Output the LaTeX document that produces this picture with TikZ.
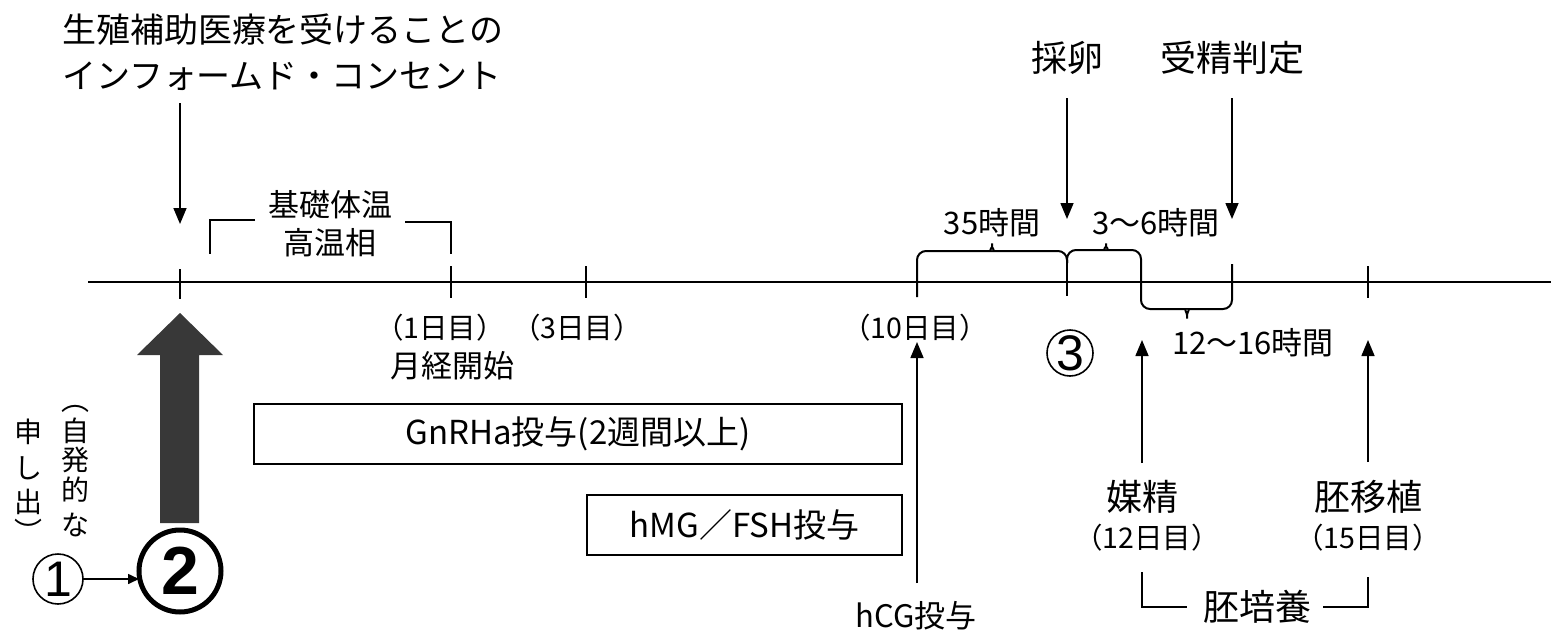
\documentclass[tikz,border=0pt]{standalone}
\usepackage{fontspec}
\setmainfont{Noto Sans CJK JP}
\newfontfamily\latinf{Liberation Sans}
\usetikzlibrary{arrows.meta}
\tikzset{
  every node/.style={inner sep=0pt, outer sep=0pt},
  fbig/.style={font=\fontsize{36}{42}\selectfont},
  ftop/.style={font=\fontsize{34}{40}\selectfont},
  fmid/.style={font=\fontsize{31}{36}\selectfont},
  fbox/.style={font=\fontsize{33}{38}\selectfont},
  fsma/.style={font=\fontsize{28}{34}\selectfont},
  fhr/.style={font=\fontsize{31}{36}\selectfont},
  fday/.style={font=\fontsize{28.5}{34}\selectfont},
  ln/.style={line width=1.6pt},
  tl/.style={line width=2.2pt},
  arr/.style={line width=1.6pt, -{Triangle[width=13pt,length=16pt]}},
  boxs/.style={draw, line width=1.6pt, fbox},
  circ/.style={draw, circle, line width=1.6pt},
}
\begin{document}
\begin{tikzpicture}[x=1pt,y=-1pt]
\useasboundingbox (0,0) rectangle (1551,632);
% timeline
\coordinate (L) at (88,282);
\coordinate (R) at (1551,282);
\draw[tl] (L) -- (R);
% ticks
\draw[ln] (180,269) -- (180,299);
\draw[ln] (451,266) -- (451,298);
\draw[ln] (586,266) -- (586,298);
\draw[ln] (1067,262) -- (1067,296);
\draw[ln] (1368,266) -- (1368,298);
% braces
\draw[line width=2pt, rounded corners=9pt]
  (917,297) -- (917,251) -- (982,251) .. controls (989,251) and (992,247) .. (992,238)
  .. controls (992,247) and (995,251) .. (1002,251) -- (1067,251) -- (1067,263);
\draw[line width=2pt, rounded corners=9pt]
  (1067,263) -- (1067,250) -- (1096,250) .. controls (1103,250) and (1106,246) .. (1106,238)
  .. controls (1106,246) and (1109,250) .. (1116,250) -- (1141,250) -- (1141,309)
  -- (1177,309) .. controls (1184,309) and (1187,313) .. (1187,324)
  .. controls (1187,313) and (1190,309) .. (1197,309) -- (1232,309) -- (1232,264);
% informed consent
\node[ftop, anchor=west] (ic1) at (62,30) {生殖補助医療を受けることの};
\node[ftop, anchor=west] (ic2) at (62,76) {インフォームド・コンセント};
\coordinate (icA) at (180,103);
\coordinate (icB) at (180,224);
\draw[arr] (icA) -- (icB);
% basal body temperature
\node[fmid] (bbt1) at (330,205) {基礎体温};
\node[fmid] (bbt2) at (330,243) {高温相};
\draw[ln] (255,220) -- (210,220) -- (210,254);
\draw[ln] (405,222) -- (451,222) -- (451,254);
% day labels
\node[fday] (d1) at (440,328) {（1日目）};
\node[fday] (d3) at (577,328) {（3日目）};
\node[fday] (d10) at (915,328) {（10日目）};
\node[fmid] (mens) at (452,366) {月経開始};
% boxes
\node[boxs, minimum width=648pt, minimum height=60pt] (gnrh) at (578,434) {GnRHa投与(2週間以上)};
\node[boxs, minimum width=315pt, minimum height=60pt] (hmg) at (744.5,525) {hMG／FSH投与};
% hCG
\node[fmid] (hcg) at (916,616) {hCG投与};
\coordinate (hcgB) at (917,583);
\coordinate (hcgT) at (917,342);
\draw[arr] (hcgB) -- (hcgT);
% egg retrieval etc
\node[fbig] (sai) at (1067,58) {採卵};
\node[fbig] (jus) at (1232,58) {受精判定};
\coordinate (saiA) at (1067,98);
\coordinate (saiB) at (1067,219);
\coordinate (jusA) at (1232,98);
\coordinate (jusB) at (1232,219);
\draw[arr] (saiA) -- (saiB);
\draw[arr] (jusA) -- (jusB);
\node[fhr] (h35) at (992,223) {35時間};
\node[fhr] (h36) at (1156,223) {3～6時間};
\node[fhr] (h1216) at (1253,343) {12～16時間};
% circle 3
\node[circ, minimum size=46pt, font=\latinf\fontsize{50}{50}\selectfont] (c3) at (1070,353) {3};
% insemination / transfer
\node[fbig] (bai) at (1142,497) {媒精};
\node[fday] (d12) at (1147,538) {（12日目）};
\node[fbig] (ihs) at (1368,497) {胚移植};
\node[fday] (d15) at (1368,538) {（15日目）};
\coordinate (baiA) at (1142,463);
\coordinate (baiB) at (1142,340);
\coordinate (ihsA) at (1368,462);
\coordinate (ihsB) at (1368,340);
\draw[arr] (baiA) -- (baiB);
\draw[arr] (ihsA) -- (ihsB);
\node[fbig] (cult) at (1257,607) {胚培養};
\draw[ln] (1142,572) -- (1142,607) -- (1187,607);
\draw[ln] (1323,607) -- (1368,607) -- (1368,577);
% big arrow
\fill[black!78] (180,313) -- (223,355) -- (199,355) -- (199,523) -- (160,523) -- (160,355) -- (137,355) -- cycle;
% circles 1 and 2
\node[circ, minimum size=82pt, line width=5pt, font=\latinf\bfseries\fontsize{68}{68}\selectfont] (c2) at (180,571) {2};
\node[circ, minimum size=50pt, font=\latinf\fontsize{50}{50}\selectfont] (c1) at (58,579) {1};
\draw[ln, -{Triangle[width=10pt,length=11pt]}] (c1.east) -- (c1.east -| c2.west);
% vertical text
\node[fsma] (v0) at (75,409) {︵};
\node[fsma] (v1) at (75,431) {自};
\node[fsma] (v2) at (75,460) {発};
\node[fsma] (v3) at (75,490) {的};
\node[fsma] (v4) at (75,525) {な};
\node[fsma] (w1) at (29,432) {申};
\node[fsma] (w2) at (29,468) {し};
\node[fsma] (w3) at (29,502) {出};
\node[fsma] (w4) at (29,531) {︶};
\end{tikzpicture}
\end{document}
